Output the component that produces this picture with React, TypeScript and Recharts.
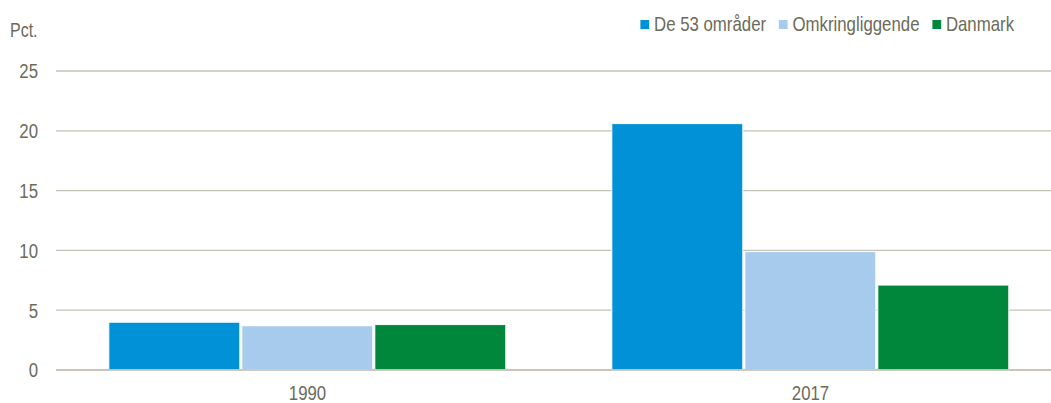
import { Bar, BarChart, CartesianGrid, XAxis, YAxis } from "recharts";

const years = ["1990", "2017"];
const omraader = [4.0, 20.6];
const omkring = [3.7, 9.9];
const danmark = [3.8, 7.1];
const yTicks = [0, 5, 10, 15, 20, 25];

const seriesNames = ["De 53 områder", "Omkringliggende", "Danmark"];
const seriesColors = ["#0091d6", "#a6cbed", "#00873b"];

const data = years.map((year, i) => ({
  year,
  omraader: omraader[i],
  omkring: omkring[i],
  danmark: danmark[i],
}));

const font = "'Liberation Sans', Arial, sans-serif";
const textColor = "#6b6b5b";
const gridColor = "#c4c1b6";
const squeeze = 0.8;

// narrow text (the original uses Arial Narrow)
const NarrowTick = ({
  x,
  y,
  payload,
  anchor,
  dy,
}: {
  x?: number;
  y?: number;
  payload?: { value: string | number };
  anchor: "end" | "middle";
  dy: string;
}) => (
  <g transform={`translate(${x},${y}) scale(${squeeze},1)`}>
    <text
      x={0}
      y={0}
      dy={dy}
      textAnchor={anchor}
      fontSize={21}
      fill={textColor}
      fontFamily={font}
    >
      {payload?.value}
    </text>
  </g>
);

function LegendRow() {
  return (
    <div
      style={{
        position: "absolute",
        right: 37,
        top: 12,
        display: "flex",
        alignItems: "center",
        whiteSpace: "nowrap",
        transform: `scaleX(${squeeze})`,
        transformOrigin: "right center",
        fontSize: 21,
        color: textColor,
        lineHeight: "24px",
      }}
    >
      {seriesNames.map((name, i) => (
        <div key={name} style={{ display: "flex", alignItems: "center", marginLeft: i ? 16 : 0 }}>
          <span
            style={{
              width: 11,
              height: 9,
              background: seriesColors[i],
              display: "inline-block",
              marginRight: 6,
            }}
          />
          <span>{name}</span>
        </div>
      ))}
    </div>
  );
}

export default function App() {
  return (
    <div
      style={{
        position: "absolute",
        left: 0,
        top: 0,
        width: 1051,
        height: 403,
        overflow: "hidden",
        background: "#fff",
        fontFamily: font,
      }}
    >
      <div
        style={{
          position: "absolute",
          left: 10,
          top: 19,
          fontSize: 20,
          lineHeight: "22px",
          color: textColor,
          transform: `scaleX(${squeeze})`,
          transformOrigin: "left center",
        }}
      >
        Pct.
      </div>
      <LegendRow />
      <BarChart
        width={1062}
        height={403}
        data={data}
        barCategoryGap="10.5%"
        barGap={2}
        margin={{ top: 71, right: 0, bottom: 0, left: 0 }}
      >
        <CartesianGrid vertical={false} stroke={gridColor} strokeWidth={1.3} />
        <XAxis
          dataKey="year"
          tick={<NarrowTick anchor="middle" dy="0.71em" />}
          tickLine={false}
          axisLine={{ stroke: gridColor, strokeWidth: 1.3 }}
          height={33}
          tickMargin={9}
        />
        <YAxis
          domain={[0, 25]}
          ticks={yTicks}
          tick={<NarrowTick anchor="end" dy="0.355em" />}
          tickLine={false}
          axisLine={false}
          width={56}
          tickMargin={12}
        />
        <Bar dataKey="omraader" name={seriesNames[0]} fill={seriesColors[0]} stroke="#fff" isAnimationActive={false} />
        <Bar dataKey="omkring" name={seriesNames[1]} fill={seriesColors[1]} stroke="#fff" isAnimationActive={false} />
        <Bar dataKey="danmark" name={seriesNames[2]} fill={seriesColors[2]} stroke="#fff" isAnimationActive={false} />
      </BarChart>
    </div>
  );
}
